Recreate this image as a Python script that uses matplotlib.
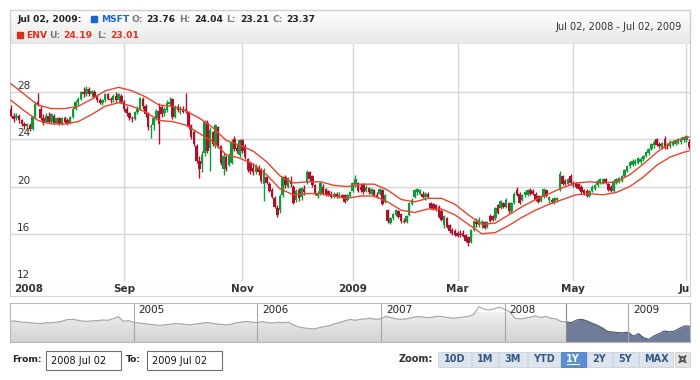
import numpy as np
import pandas as pd
import matplotlib
matplotlib.use('Agg')
import matplotlib.pyplot as plt
from matplotlib.patches import Rectangle, Polygon
from matplotlib.colors import LinearSegmentedColormap

plt.rcParams['font.family'] = ['DejaVu Sans']

# daily MSFT prices, Jul 02 2008 - Jul 02 2009 (one line per month)
opens = [
    26.6, 26.0, 25.8, 26.0, 25.6, 25.3, 25.1, 25.2, 24.9, 25.9, 27.2, 26.6, 25.8, 25.5, 26.0, 25.5, 26.0, 25.4, 25.8, 25.3, 25.8,
    25.6, 25.4, 25.9, 26.6, 27.2, 27.4, 28.0, 27.8, 28.3, 27.8, 28.0, 27.6, 27.3, 27.1, 27.3, 27.8, 27.4, 27.3, 27.7, 27.3, 27.7,
    27.2, 26.6, 26.2, 25.8, 25.7, 26.3, 26.6, 27.4, 26.8, 26.1, 25.0, 25.2, 25.8, 26.4, 26.7, 26.2, 26.5, 27.0, 27.4, 25.9, 26.7,
    26.5, 26.6, 26.6, 26.3, 25.1, 24.6, 23.4, 22.2, 21.9, 22.8, 25.4, 23.3, 24.6, 23.5, 25.0, 23.4, 21.5, 22.5, 21.8, 22.0, 24.0, 23.3, 22.7,
    23.9, 23.4, 22.3, 22.0, 21.6, 21.2, 21.6, 21.4, 20.2, 20.8, 20.2, 19.7, 19.0, 18.2, 18.0, 19.3, 20.8, 20.0, 20.5,
    20.0, 18.9, 19.7, 19.1, 19.8, 20.3, 21.2, 20.9, 20.1, 19.2, 19.4, 20.0, 19.8, 19.6, 19.4, 19.1, 19.4, 19.1, 19.3, 19.3, 18.9, 19.2,
    19.6, 20.2, 20.3, 20.0, 20.2, 19.6, 19.9, 19.4, 19.7, 19.3, 19.4, 19.7, 18.7, 18.0, 16.9, 17.3, 17.6, 17.9, 17.7, 17.1,
    17.0, 17.6, 18.5, 19.1, 19.5, 19.4, 19.4, 19.1, 19.4, 18.6, 18.5, 18.4, 18.3, 17.9, 16.7, 17.3, 16.7, 16.3, 16.2,
    16.1, 16.0, 16.1, 15.9, 15.7, 15.3, 16.3, 17.0, 16.7, 16.9, 17.0, 16.6, 17.5, 17.5, 17.3, 18.4, 18.2, 18.6, 18.3, 18.6, 17.9, 18.6,
    19.7, 19.4, 18.9, 19.3, 19.3, 19.7, 19.6, 19.4, 19.2, 18.8, 19.1, 19.7, 18.9, 18.9, 18.7, 18.9, 19.7, 20.9, 20.5, 20.2, 20.9,
    20.3, 20.3, 20.2, 20.0, 19.7, 19.6, 19.2, 19.6, 19.8, 20.1, 20.3, 20.3, 20.6, 20.2, 20.0, 19.6, 20.3, 20.4, 20.5, 20.9,
    21.3, 21.7, 21.8, 21.9, 22.0, 22.1, 22.3, 22.6, 22.8, 23.2, 23.5, 24.0, 23.6, 23.3, 24.0, 23.5, 23.4, 23.5, 23.6, 23.7, 23.8, 23.9,
    23.9, 23.76,
]
highs = [
    26.9, 26.2, 26.2, 26.1, 25.7, 25.5, 25.4, 25.4, 26.0, 27.2, 27.9, 26.8, 26.1, 26.2, 26.3, 26.2, 26.1, 25.9, 25.9, 25.9, 26.0,
    25.8, 26.0, 26.7, 27.3, 27.6, 28.1, 28.4, 28.5, 28.4, 28.2, 28.2, 27.8, 27.5, 27.4, 27.9, 27.9, 27.6, 27.8, 28.0, 27.9, 27.8,
    27.3, 26.8, 26.3, 26.0, 26.4, 26.8, 27.6, 27.6, 27.0, 26.3, 25.3, 26.0, 26.6, 27.1, 26.9, 26.7, 27.3, 27.6, 27.5, 26.9, 27.0,
    26.8, 26.8, 27.9, 26.4, 25.3, 24.8, 23.6, 22.6, 23.0, 25.6, 25.6, 25.0, 24.7, 25.3, 25.1, 23.5, 22.8, 22.7, 22.8, 24.0, 24.3, 23.6, 24.0,
    24.0, 23.6, 22.4, 22.2, 22.0, 21.9, 21.8, 21.6, 21.6, 21.0, 20.4, 19.9, 19.2, 18.4, 19.4, 20.9, 21.0, 20.8, 20.9,
    20.1, 19.8, 19.9, 20.0, 20.1, 21.4, 21.3, 21.0, 20.2, 19.6, 20.4, 20.2, 19.9, 19.7, 19.6, 19.5, 19.5, 19.5, 19.4, 19.4, 19.4, 19.6,
    20.4, 21.0, 20.4, 20.2, 20.3, 20.1, 20.0, 19.9, 19.8, 19.5, 19.9, 19.8, 19.4, 18.1, 17.4, 17.8, 18.1, 18.0, 17.8, 17.3,
    17.6, 18.7, 19.0, 19.8, 19.9, 19.8, 19.6, 19.5, 19.5, 18.7, 18.6, 18.5, 18.4, 18.1, 17.6, 17.4, 16.8, 16.5, 16.4,
    16.2, 16.3, 16.3, 16.0, 15.8, 16.4, 17.2, 17.3, 17.4, 17.2, 17.1, 17.1, 17.7, 17.6, 18.3, 18.5, 18.9, 18.7, 19.0, 18.7, 18.7, 19.5,
    20.0, 19.5, 19.4, 19.6, 19.8, 19.9, 19.8, 19.5, 19.3, 19.3, 19.9, 19.8, 19.2, 19.0, 19.1, 19.1, 21.3, 21.0, 20.6, 20.7, 21.1,
    20.5, 20.4, 20.3, 20.1, 19.8, 19.8, 19.7, 20.1, 20.2, 20.6, 20.7, 20.7, 20.7, 20.3, 20.1, 20.6, 20.7, 20.8, 21.0, 21.5,
    21.8, 22.2, 22.3, 22.3, 22.5, 22.5, 22.7, 23.0, 23.3, 23.7, 23.9, 24.1, 23.8, 23.8, 24.3, 23.7, 23.9, 23.9, 24.0, 24.1, 24.2, 24.3,
    24.4, 24.04,
]
lows = [
    25.9, 25.5, 25.6, 25.4, 25.1, 24.9, 24.8, 24.7, 24.8, 25.8, 26.8, 25.6, 25.2, 25.4, 25.4, 25.4, 25.3, 25.3, 25.2, 25.2, 25.4,
    25.2, 25.3, 25.8, 26.5, 26.9, 27.3, 27.6, 27.7, 27.7, 27.6, 27.5, 27.2, 27.0, 26.9, 27.2, 27.3, 27.1, 27.2, 27.2, 27.2, 27.1,
    26.4, 26.0, 25.6, 25.5, 25.6, 26.1, 26.5, 26.6, 25.9, 24.8, 24.1, 24.8, 25.6, 23.6, 25.9, 26.0, 26.3, 26.8, 25.7, 25.8, 26.3,
    26.1, 26.2, 26.2, 24.9, 24.0, 23.4, 22.0, 20.7, 21.2, 22.6, 22.8, 21.3, 23.4, 23.3, 23.3, 21.8, 21.0, 21.3, 21.7, 21.9, 23.0, 22.8, 22.5,
    22.8, 22.3, 21.2, 21.1, 21.0, 21.1, 21.0, 20.3, 18.8, 20.2, 19.5, 19.0, 18.2, 17.4, 17.8, 19.1, 19.9, 19.9, 20.0,
    18.5, 18.7, 18.8, 18.9, 19.3, 20.2, 20.5, 20.0, 19.3, 19.0, 19.3, 19.3, 19.2, 19.2, 19.0, 19.0, 19.0, 19.0, 19.0, 18.6, 18.8, 19.1,
    19.5, 20.0, 19.5, 19.5, 19.4, 19.5, 19.4, 19.3, 19.1, 19.0, 19.3, 18.4, 18.6, 16.9, 16.8, 17.2, 17.5, 17.3, 16.9, 16.9,
    16.9, 17.5, 18.4, 19.0, 19.3, 19.3, 19.0, 18.9, 19.0, 18.1, 18.0, 17.9, 17.3, 17.1, 16.5, 16.5, 16.1, 15.9, 15.8,
    15.7, 15.7, 15.7, 15.3, 15.0, 15.2, 16.2, 16.6, 16.6, 16.5, 16.4, 16.5, 17.0, 17.1, 17.2, 17.7, 18.1, 18.2, 18.2, 17.8, 17.8, 18.5,
    19.2, 18.5, 18.8, 19.1, 19.2, 19.3, 19.3, 18.8, 18.6, 18.7, 19.0, 19.1, 18.6, 18.6, 18.5, 18.7, 19.6, 20.1, 20.1, 20.1, 20.1,
    20.0, 19.9, 19.7, 19.4, 19.3, 19.1, 19.1, 19.5, 19.7, 20.0, 20.2, 20.2, 20.2, 19.6, 19.5, 19.5, 20.2, 20.3, 20.4, 20.8,
    21.2, 21.6, 21.7, 21.8, 21.9, 21.9, 22.2, 22.5, 22.7, 23.1, 23.3, 23.4, 23.3, 23.2, 23.2, 23.2, 23.3, 23.4, 23.5, 23.6, 23.6, 23.8,
    23.8, 23.21,
]
closes = [
    26.0, 25.7, 26.0, 25.6, 25.3, 25.1, 25.3, 24.9, 25.9, 27.0, 27.0, 25.8, 25.4, 26.0, 25.5, 26.1, 25.4, 25.8, 25.3, 25.8, 25.5,
    25.3, 25.9, 26.6, 27.2, 27.4, 28.0, 27.8, 28.3, 27.8, 28.1, 27.6, 27.3, 27.1, 27.3, 27.8, 27.4, 27.3, 27.7, 27.3, 27.8, 27.2,
    26.6, 26.2, 25.8, 25.7, 26.3, 26.6, 27.5, 26.8, 26.1, 25.0, 25.1, 25.8, 26.4, 25.3, 26.1, 26.6, 27.1, 27.2, 25.9, 26.7, 26.5,
    26.6, 26.3, 26.4, 25.1, 24.2, 23.6, 22.2, 21.5, 22.7, 25.5, 23.0, 24.8, 23.6, 25.2, 23.4, 22.0, 22.6, 21.5, 22.6, 23.8, 23.2, 23.0, 23.9,
    23.0, 22.5, 21.4, 21.3, 21.2, 21.7, 21.2, 20.5, 21.4, 20.3, 19.6, 19.1, 18.3, 17.6, 19.2, 20.8, 20.1, 20.7, 20.2,
    18.6, 19.6, 19.0, 19.9, 19.5, 21.2, 20.6, 20.1, 19.4, 19.4, 20.3, 19.4, 19.3, 19.3, 19.1, 19.4, 19.1, 19.3, 19.1, 18.7, 19.3, 19.5,
    20.3, 20.6, 19.6, 19.7, 19.5, 20.0, 19.5, 19.8, 19.2, 19.1, 19.8, 18.5, 19.3, 17.1, 17.3, 17.7, 18.0, 17.4, 17.1, 17.0,
    17.5, 18.6, 18.9, 19.7, 19.8, 19.7, 19.1, 19.4, 19.1, 18.2, 18.1, 18.0, 17.4, 17.2, 17.5, 16.6, 16.2, 16.1, 15.9,
    15.8, 15.9, 15.8, 15.4, 15.2, 16.3, 17.1, 16.8, 17.2, 17.1, 16.5, 17.0, 17.1, 17.2, 18.2, 17.8, 18.8, 18.3, 18.9, 17.9, 18.6, 19.4,
    19.3, 18.6, 19.3, 19.5, 19.7, 19.4, 19.4, 18.9, 18.7, 19.2, 19.8, 19.2, 19.1, 18.7, 19.0, 19.0, 21.1, 20.2, 20.2, 20.6, 20.3,
    20.2, 20.0, 19.8, 19.5, 19.4, 19.2, 19.6, 20.0, 20.1, 20.5, 20.6, 20.6, 20.3, 19.7, 19.6, 20.5, 20.6, 20.7, 20.9, 21.4,
    21.7, 22.1, 22.2, 22.2, 22.4, 22.3, 22.6, 22.9, 23.2, 23.6, 23.8, 23.5, 23.4, 23.7, 23.3, 23.4, 23.8, 23.8, 23.9, 24.0, 24.0, 24.2,
    24.3, 23.37,
]

# envelope (upper / lower) read every 5th trading day
env_idx = list(range(0, 251, 5)) + [252]
env_upper = [28.7, 27.8, 26.9, 26.6, 26.6, 26.8, 27.4, 28.1, 28.4, 28.1,
             27.6, 26.9, 26.8, 26.4, 25.8, 25.0, 23.9, 23.5, 23.0, 22.1,
             20.9, 20.3, 20.4, 20.4, 20.1, 20.0, 20.2, 20.2, 19.7, 18.9,
             18.7, 19.0, 19.0, 18.5, 17.6, 16.8, 16.9, 17.6, 18.3, 18.9,
             19.4, 19.9, 20.3, 20.4, 20.3, 20.4, 21.0, 21.9, 22.9, 23.7,
             24.1, 24.19]
env_lower = [27.3, 26.4, 25.6, 25.3, 25.3, 25.5, 26.1, 26.8, 27.1, 26.8,
             26.3, 25.6, 25.5, 25.2, 24.5, 23.8, 22.7, 22.4, 21.9, 21.0,
             19.8, 19.3, 19.4, 19.4, 19.2, 19.0, 19.2, 19.2, 18.7, 18.0,
             17.8, 18.1, 18.1, 17.6, 16.8, 16.0, 16.1, 16.7, 17.4, 18.0,
             18.5, 18.9, 19.3, 19.4, 19.3, 19.5, 20.0, 20.8, 21.8, 22.5,
             22.9, 23.01]

# scroller series 2004 - mid 2009, two points per month
nav_prices = [
    26.2, 26.6, 26.0, 25.8, 25.5, 25.2, 25.0, 25.6, 25.4, 25.9, 26.3, 27.4, 27.6, 27.2, 26.5, 26.4, 26.7, 26.8, 27.2, 27.0, 28.0, 29.2, 26.4, 26.8,
    25.8, 25.4, 25.0, 24.6, 24.3, 23.9, 24.2, 24.6, 25.0, 24.9, 24.5, 24.2, 24.8, 25.1, 25.6, 25.4, 24.8, 24.5, 24.2, 24.7, 25.5, 26.0, 26.3, 25.9,
    25.6, 26.2, 25.6, 25.3, 25.8, 25.6, 25.9, 24.2, 23.0, 22.4, 22.0, 21.8, 22.5, 23.2, 23.8, 24.9, 25.6, 26.7, 27.5, 27.0, 27.6, 27.9, 28.2, 27.6,
    28.0, 29.4, 28.6, 27.8, 27.6, 27.9, 28.6, 29.3, 29.0, 28.6, 28.9, 29.5, 29.2, 28.7, 28.3, 28.6, 29.0, 29.4, 30.5, 35.3, 33.8, 33.2, 34.0, 35.0,
    33.6, 32.2, 28.4, 27.8, 28.3, 28.9, 29.6, 28.7, 29.4, 28.2, 27.8, 26.3, 26.0, 25.6, 27.2, 27.6, 26.6, 25.2, 24.0, 22.3, 20.2, 19.9, 19.5, 19.4,
    19.8, 17.3, 18.9, 16.4, 15.4, 17.5, 18.9, 20.5, 20.0, 20.4, 22.2, 23.6,
    23.37,
]
nav_years = ['2005', '2006', '2007', '2008', '2009']

holidays = ['2008-07-04', '2008-09-01', '2008-11-27', '2008-12-25', '2009-01-01',
            '2009-01-19', '2009-02-16', '2009-04-10', '2009-05-25']
tick_months = ['2008-07', '2008-09', '2008-11', '2009-01', '2009-03', '2009-05', '2009-07']
tick_labels = ['2008', 'Sep', 'Nov', '2009', 'Mar', 'May', 'Jul']
y_ticks = [12, 16, 20, 24, 28]
zoom_buttons = ['10D', '1M', '3M', 'YTD', '1Y', '2Y', '5Y', 'MAX']

dates = pd.bdate_range('2008-07-02', '2009-07-02').drop(pd.to_datetime(holidays))
O, H, L, C = (np.array(a) for a in (opens, highs, lows, closes))
assert len(dates) == len(C)
xs = np.arange(len(C))
tick_pos = [int(np.searchsorted(dates, pd.Timestamp(m + '-01'))) for m in tick_months]

W, Hpx = 700, 380
fig = plt.figure(figsize=(7, 3.8), dpi=100)


def px_axes(x0, y0, x1, y1):
    return fig.add_axes([x0 / W, 1 - y1 / Hpx, (x1 - x0) / W, (y1 - y0) / Hpx])


ui = fig.add_axes([0, 0, 1, 1])
ui.set_autoscale_on(False)
ui.set_xlim(0, W)
ui.set_ylim(Hpx, 0)
ui.axis('off')

# header box
grad = np.linspace(0, 1, 64).reshape(-1, 1)
ui.imshow(grad, extent=(10, 690, 44, 10), aspect='auto', origin='upper',
          cmap=LinearSegmentedColormap.from_list('hdr', ['#ffffff', '#e8e8e8']))
ui.add_patch(Rectangle((10, 10), 680, 34, fill=False, edgecolor='#cfcfcf', lw=1))

bold = dict(fontsize=6.6, fontweight='bold', va='center', ha='left')
ui.text(17, 19.5, 'Jul 02, 2009:', color='#222222', **bold)
ui.add_patch(Rectangle((91, 16.3), 6, 6, color='#1565d8'))
ui.text(101.5, 19.5, 'MSFT', color='#1f63d0', **bold)
for x, t, c in [(131, 'O:', '#7a7a7a'), (146.5, '23.76', '#222222'),
                (179, 'H:', '#7a7a7a'), (194, '24.04', '#222222'),
                (226.5, 'L:', '#7a7a7a'), (240, '23.21', '#222222'),
                (272.5, 'C:', '#7a7a7a'), (286, '23.37', '#222222')]:
    ui.text(x, 19.5, t, color=c, **bold)
ui.add_patch(Rectangle((17, 32.3), 5.5, 5.5, color='#d8301c'))
ui.text(26, 35, 'ENV', color='#d8301c', **bold)
for x, t, c in [(49.5, 'U:', '#7a7a7a'), (63.5, '24.19', '#e0301e'),
                (97, 'L:', '#7a7a7a'), (110, '23.01', '#e0301e')]:
    ui.text(x, 35, t, color=c, **bold)
ui.text(681.5, 27.5, 'Jul 02, 2008 - Jul 02, 2009', fontsize=7, color='#333333',
        ha='right', va='center')

# main price chart
green, red = '#0f9a3a', '#ad102b'
env_color = '#e8442c'
ax = px_axes(10, 44, 690, 281)
ax.set_xlim(-0.37, len(C) - 1 + 0.37)
ax.set_ylim(12, 32.07)
for y in y_ticks[1:]:
    ax.axhline(y, color='#d6d6d6', lw=1, zorder=0)
for p in tick_pos[1:]:
    ax.axvline(p, color='#d6d6d6', lw=1, zorder=0)
for y in y_ticks:
    ax.text(2.2, y + 0.25, str(y), fontsize=7.5, color='#333333', va='baseline', ha='left')

up = C >= O
body = np.maximum(np.abs(C - O), 0.08)
ax.vlines(xs[up], L[up], H[up], color=green, lw=1.0, zorder=2)
ax.vlines(xs[~up], L[~up], H[~up], color=red, lw=1.0, zorder=2)
ax.bar(xs[up], body[up], bottom=O[up], width=0.92, color=green, lw=0, zorder=3)
ax.bar(xs[~up], body[~up], bottom=C[~up], width=0.92, color=red, lw=0, zorder=3)
ax.plot(env_idx, env_upper, color=env_color, lw=1.0, zorder=4)
ax.plot(env_idx, env_lower, color=env_color, lw=1.0, zorder=4)
ax.set_xticks([])
ax.set_yticks([])
for s in ['left', 'right', 'bottom']:
    ax.spines[s].set_color('#cccccc')
ax.spines['top'].set_visible(False)

# date labels band
band = px_axes(10, 281, 690, 296)
band.set_xlim(ax.get_xlim())
band.set_ylim(0, 1)
band.set_xticks([])
band.set_yticks([])
for s in band.spines.values():
    s.set_color('#d4d4d4')
band.spines['top'].set_visible(False)
for p, lab in zip(tick_pos, tick_labels):
    if p == 0:
        band.text(p + 1.3, 0.5, lab, fontsize=7.5, fontweight='bold', color='#333333',
                  ha='left', va='center', clip_on=True)
    else:
        band.text(p, 0.5, lab, fontsize=7.5, fontweight='bold', color='#333333',
                  ha='center', va='center', clip_on=True)

# scroller
nav = px_axes(10, 302.7, 690, 342)
nav.set_autoscale_on(False)
nav.set_xlim(2004.0, 2009.5)
nav.set_ylim(13.8, 37.7)
nx = 2004.0 + np.arange(len(nav_prices) - 1) / 24.0
nx = np.append(nx, 2009.5)
ny = np.array(nav_prices)
sel = 2008.5
k = int(np.searchsorted(nx, sel))
lx, ly = nx[:k + 1], ny[:k + 1]
rx, ry = nx[k:], ny[k:]
poly = Polygon(list(zip(lx, ly)) + [(lx[-1], 13.8), (lx[0], 13.8)], closed=True,
               facecolor='none', edgecolor='none')
nav.add_patch(poly)
im = nav.imshow(grad, extent=(2004.0, sel, 13.8, 32), aspect='auto', origin='upper',
                cmap=LinearSegmentedColormap.from_list('nav', ['#f0f0f0', '#d2d2d2']))
im.set_clip_path(poly)
nav.fill_between(rx, ry, 13.8, color='#6f7c97', lw=0)
nav.plot(lx, ly, color='#a3a3a3', lw=0.8)
nav.plot(rx, ry, color='#475470', lw=0.8)
nav.axvline(sel, color='#8a8a8a', lw=0.8)
for yr in nav_years:
    v = float(yr)
    nav.axvline(v, color='#a8a8a8', lw=0.8)
    nav.text(v + 0.04, 36.3, yr, fontsize=7.5, color='#222222', ha='left', va='top')
nav.set_xticks([])
nav.set_yticks([])
for s in nav.spines.values():
    s.set_color('#b8b8b8')

# range inputs
ui.text(12.5, 360, 'From:', color='#222222', **bold)
ui.add_patch(Rectangle((46, 351), 75, 19, facecolor='white', edgecolor='#6e6e6e', lw=0.8))
ui.text(51, 360.5, '2008 Jul 02', fontsize=7, color='#111111', va='center', ha='left')
ui.text(126, 360, 'To:', color='#222222', **bold)
ui.add_patch(Rectangle((147, 351), 75, 19, facecolor='white', edgecolor='#6e6e6e', lw=0.8))
ui.text(152, 360.5, '2009 Jul 02', fontsize=7, color='#111111', va='center', ha='left')

# zoom buttons
ui.text(433, 359.5, 'Zoom:', fontsize=7, fontweight='bold', color='#333333', ha='right', va='center')
edges = [438.3, 471.7, 499.3, 527.7, 560.7, 586.7, 613.3, 638.7, 674.3]
for i, lab in enumerate(zoom_buttons):
    x0, x1 = edges[i], edges[i + 1] - 1
    active = lab == '1Y'
    ui.add_patch(Rectangle((x0, 351.7), x1 - x0, 15, facecolor='#5a8fd2' if active else '#dde4ee',
                           edgecolor='#c9d2de' if not active else '#4a7cc0', lw=0.6))
    ui.text((x0 + x1) / 2, 359.4, lab, fontsize=7, fontweight='bold',
            color='white' if active else '#35587f', ha='center', va='center')
    if active:
        ui.plot([(x0 + x1) / 2 - 6, (x0 + x1) / 2 + 6], [364, 364], color='white', lw=0.8)

# full-screen icon
ui.add_patch(Rectangle((675, 351.7), 15, 15, facecolor='#e4e4e4', edgecolor='#cfcfcf', lw=0.6))
cx, cy = 682.5, 359.2
for dx, dy in [(-1, -1), (1, -1), (-1, 1), (1, 1)]:
    ui.annotate('', xy=(cx + dx * 6, cy + dy * 6), xytext=(cx + dx * 1.5, cy + dy * 1.5),
                arrowprops=dict(arrowstyle='-|>', color='#555555', lw=0.9, mutation_scale=5))

fig.savefig('out.png', dpi=100)
